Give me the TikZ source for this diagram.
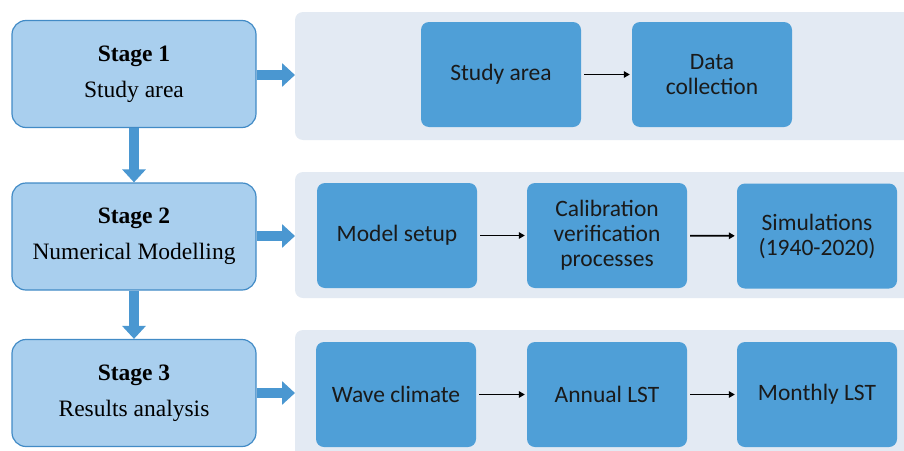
\documentclass[tikz,border=0pt]{standalone}
\usepackage{fontspec}
\setmainfont{Liberation Serif}
\newfontfamily\boxfont{Carlito}
\usetikzlibrary{arrows.meta}

\definecolor{panelfill}{HTML}{E3EAF3}
\definecolor{stagefill}{HTML}{A9CFEE}
\definecolor{stageedge}{HTML}{428BC6}
\definecolor{taskfill}{HTML}{4F9FD7}
\definecolor{flowblue}{HTML}{4A97D1}
\definecolor{tasktext}{HTML}{1A1A1A}

\tikzset{
  stagebox/.style={draw=stageedge, line width=1.2pt, fill=stagefill,
    rounded corners=14pt, minimum width=244pt, minimum height=107pt,
    align=center, inner sep=0pt,
    font=\fontsize{23.5}{36}\selectfont},
  panel/.style={fill=panelfill, rounded corners=8pt},
  taskbox/.style={fill=taskfill, rounded corners=8pt,
    minimum width=160pt, minimum height=105pt, inner sep=0pt,
    align=center, text=tasktext,
    font=\boxfont\fontsize{23.5}{25}\selectfont},
  fatarrow/.style={draw=flowblue, line width=10.5pt,
    -{Triangle[width=23pt,length=13pt]}},
  thinarrow/.style={draw=black, line width=1.6pt,
    -{Triangle[width=6.5pt,length=6pt]}, shorten <=3pt, shorten >=2pt}
}

\begin{document}
\begin{tikzpicture}[x=1pt,y=-1pt]
\useasboundingbox (0,0) rectangle (904,450);

% background panels for the three stages
\path[panel] (295,12) rectangle (915,140);
\path[panel] (295,172) rectangle (915,298);
\path[panel] (295,330) rectangle (915,462);

% stage boxes
\node[stagebox] (s1) at (134,74)  {\textbf{Stage 1}\\Study area};
\node[stagebox] (s2) at (134,236.5) {\textbf{Stage 2}\\Numerical Modelling};
\node[stagebox] (s3) at (134,393) {\textbf{Stage 3}\\Results analysis};

\coordinate (p1) at (295,75);
\coordinate (p2) at (295,236);
\coordinate (p3) at (295,393);

% tasks of stage 1
\node[taskbox] (a1) at (501,74.5) {Study area};
\node[taskbox] (a2) at (712,74.5) {Data\\collection};
% tasks of stage 2
\node[taskbox] (b1) at (397,235.5) {Model setup};
\node[taskbox] (b2) at (607,235.5) {Calibration\\verification\\processes};
\node[taskbox] (b3) at (817,236) {Simulations\\(1940-2020)};
% tasks of stage 3
\node[taskbox] (c1) at (396,394.5) {Wave climate};
\node[taskbox] (c2) at (607,394.5) {Annual LST};
\node[taskbox] (c3) at (817,394.5) {Monthly LST};

% flow between stages
\draw[fatarrow] (s1.east |- p1) -- (p1);
\draw[fatarrow] (s2.east |- p2) -- (p2);
\draw[fatarrow] (s3.east |- p3) -- (p3);
\draw[fatarrow] (s1.south) -- (s2.north);
\draw[fatarrow] (s2.south) -- (s3.north);

% flow between tasks
\draw[thinarrow] (a1) -- (a2);
\draw[thinarrow] (b1) -- (b2);
\draw[thinarrow] (b2) -- (b3);
\draw[thinarrow] (c1) -- (c2);
\draw[thinarrow] (c2) -- (c3);
\end{tikzpicture}
\end{document}
